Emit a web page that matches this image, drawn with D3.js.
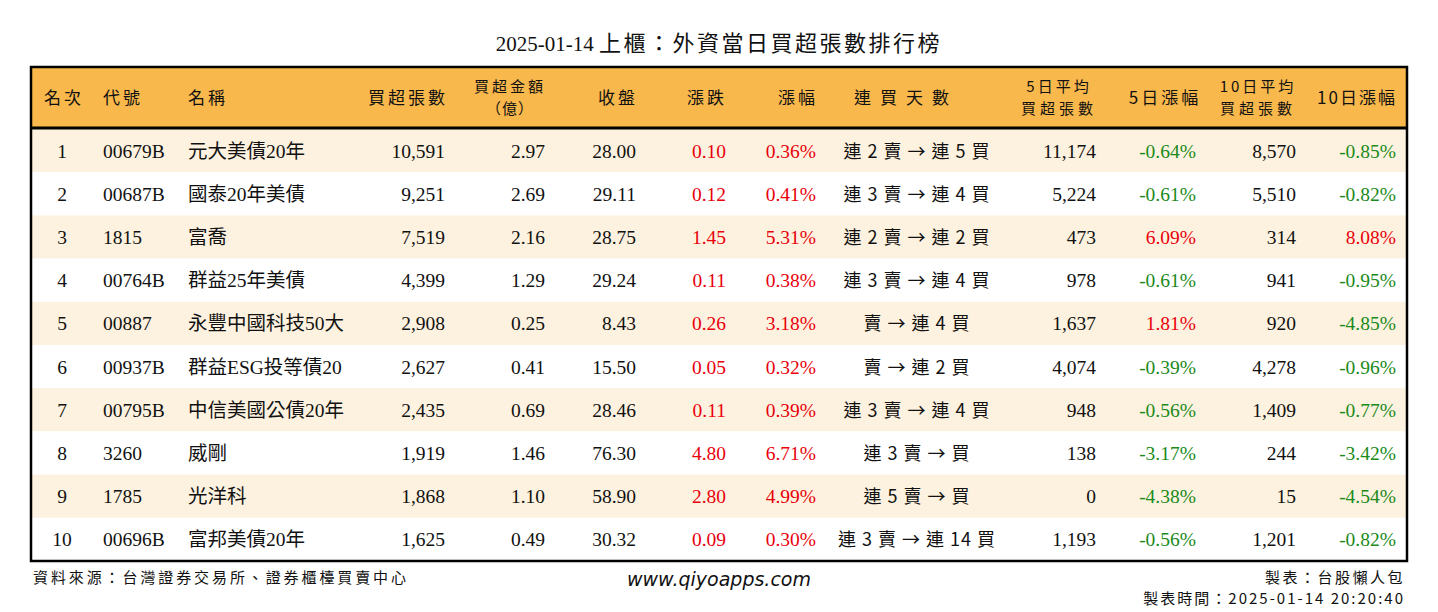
<!DOCTYPE html>
<html>
<head>
<meta charset="utf-8">
<script src="https://cdn.jsdelivr.net/npm/d3@7"></script>
<style>
  body { margin: 0; background: #fff; }
  svg text { font-family: "Liberation Serif", "Noto Sans CJK TC", serif; }
</style>
</head>
<body>
<div id="chart"></div>
<script>
const titleDate = "2025-01-14";
const titleText = "上櫃：外資當日買超張數排行榜";

const ranks   = [1, 2, 3, 4, 5, 6, 7, 8, 9, 10];
const codes   = ["00679B", "00687B", "1815", "00764B", "00887", "00937B", "00795B", "3260", "1785", "00696B"];
const names   = ["元大美債20年", "國泰20年美債", "富喬", "群益25年美債", "永豐中國科技50大", "群益ESG投等債20", "中信美國公債20年", "威剛", "光洋科", "富邦美債20年"];
const netBuy  = [10591, 9251, 7519, 4399, 2908, 2627, 2435, 1919, 1868, 1625];
const amount  = [2.97, 2.69, 2.16, 1.29, 0.25, 0.41, 0.69, 1.46, 1.10, 0.49];
const closes  = [28.00, 29.11, 28.75, 29.24, 8.43, 15.50, 28.46, 76.30, 58.90, 30.32];
const change  = [0.10, 0.12, 1.45, 0.11, 0.26, 0.05, 0.11, 4.80, 2.80, 0.09];
const pct     = [0.36, 0.41, 5.31, 0.38, 3.18, 0.32, 0.39, 6.71, 4.99, 0.30];
const streak  = ["連 2 賣 → 連 5 買", "連 3 賣 → 連 4 買", "連 2 賣 → 連 2 買", "連 3 賣 → 連 4 買", "賣 → 連 4 買",
                 "賣 → 連 2 買", "連 3 賣 → 連 4 買", "連 3 賣 → 買", "連 5 賣 → 買", "連 3 賣 → 連 14 買"];
const avg5    = [11174, 5224, 473, 978, 1637, 4074, 948, 138, 0, 1193];
const chg5    = [-0.64, -0.61, 6.09, -0.61, 1.81, -0.39, -0.56, -3.17, -4.38, -0.56];
const avg10   = [8570, 5510, 314, 941, 920, 4278, 1409, 244, 15, 1201];
const chg10   = [-0.85, -0.82, 8.08, -0.95, -4.85, -0.96, -0.77, -3.42, -4.54, -0.82];

const headers = [["名次"], ["代號"], ["名稱"], ["買超張數"], ["買超金額", "（億）"], ["收盤"], ["漲跌"], ["漲幅"],
                 ["連買天數"], ["5日平均", "買超張數"], ["5日漲幅"], ["10日平均", "買超張數"], ["10日漲幅"]];
const footLeft = "資料來源：台灣證券交易所、證券櫃檯買賣中心";
const footSite = "www.qiyoapps.com";
const footRight = ["製表：台股懶人包", "製表時間：2025-01-14 20:20:40"];

const W = 1438, H = 612;
const box = {left: 31, right: 1407, top: 67, head: 128, bottom: 561};
const RED = "#e8000b", GREEN = "#1a8a1a", INK = "#111";
const CJK = "'Noto Sans CJK TC', 'Liberation Serif', serif";

const int = d3.format(",");
const f2 = d3.format(".2f");
const num2 = v => (v < 0 ? "-" : "") + f2(Math.abs(v));
const pctFmt = v => num2(v) + "%";
const signCol = v => v >= 0 ? RED : GREEN;

// column layout: anchor x, text-anchor, header x
const cols = [
  {x: 62,   anchor: "middle", hx: 64,   val: i => ranks[i]},
  {x: 103,  anchor: "start",  hx: 103,  hAnchor: "start", val: i => codes[i]},
  {x: 188,  anchor: "start",  hx: 188,  hAnchor: "start", val: i => names[i]},
  {x: 445,  anchor: "end",    hx: 448,  hAnchor: "end", val: i => int(netBuy[i])},
  {x: 545,  anchor: "end",    hx: 510,  val: i => f2(amount[i])},
  {x: 636,  anchor: "end",    hx: 618,  val: i => f2(closes[i])},
  {x: 726,  anchor: "end",    hx: 707,  val: i => f2(change[i]), col: i => signCol(change[i])},
  {x: 816,  anchor: "end",    hx: 798,  val: i => pctFmt(pct[i]), col: i => signCol(pct[i])},
  {x: 917,  anchor: "middle", hx: 906,  hls: 9, val: i => streak[i], cjk: true, ls: 1},
  {x: 1096, anchor: "end",    hx: 1059, val: i => int(avg5[i])},
  {x: 1196, anchor: "end",    hx: 1165, val: i => pctFmt(chg5[i]), col: i => signCol(chg5[i])},
  {x: 1296, anchor: "end",    hx: 1258, val: i => int(avg10[i])},
  {x: 1396, anchor: "end",    hx: 1357, hls: 2, val: i => pctFmt(chg10[i]), col: i => signCol(chg10[i])}
];

const svg = d3.select("#chart").append("svg")
  .attr("width", W).attr("height", H);

const title = svg.append("text")
  .attr("x", W / 2).attr("y", 51)
  .attr("text-anchor", "middle")
  .attr("fill", INK);
title.append("tspan").style("font-size", "21px").text(titleDate + " ");
title.append("tspan").style("font-size", "22px").style("font-family", CJK)
  .style("letter-spacing", "2.5px").text(titleText);

const y = d3.scaleBand()
  .domain(ranks)
  .range([box.head + 1, box.bottom]);

// header background
svg.append("rect")
  .attr("x", box.left).attr("y", box.top)
  .attr("width", box.right - box.left).attr("height", box.head - box.top)
  .attr("fill", "#f8b84c");

// row stripes
svg.selectAll("rect.row")
  .data(ranks)
  .join("rect")
  .attr("class", "row")
  .attr("x", box.left).attr("y", d => y(d))
  .attr("width", box.right - box.left).attr("height", y.bandwidth())
  .attr("fill", (d, i) => i % 2 === 0 ? "#fdf2df" : "#ffffff");

// header text
const hMid = (box.top + box.head) / 2;
headers.forEach((lines, c) => {
  const col = cols[c];
  if (lines.length === 1) {
    svg.append("text")
      .attr("x", col.hx).attr("y", hMid + 6)
      .attr("text-anchor", col.hAnchor || "middle")
      .attr("fill", INK)
      .style("font-size", "17px")
      .style("letter-spacing", (col.hls || 3) + "px")
      .style("font-family", CJK)
      .text(lines[0]);
  } else {
    lines.forEach((s, k) => {
      const paren = s.startsWith("（");
      svg.append("text")
        .attr("x", col.hx).attr("y", hMid - 6 + k * 22)
        .attr("text-anchor", "middle")
        .attr("fill", INK)
        .style("font-size", "15px")
        .style("letter-spacing", paren ? "1px" : (k === 0 ? "3px" : "4px"))
        .style("font-family", CJK)
        .text(s);
    });
  }
});

// cells
const rowG = svg.selectAll("g.r")
  .data(ranks)
  .join("g")
  .attr("class", "r")
  .attr("transform", d => `translate(0,${y(d) + y.bandwidth() / 2 + 7})`);

cols.forEach(c => {
  rowG.append("text")
    .attr("x", c.x)
    .attr("text-anchor", c.anchor)
    .attr("fill", (d, i) => c.col ? c.col(i) : INK)
    .style("font-size", c.cjk ? "18px" : "19.5px")
    .style("letter-spacing", c.ls ? c.ls + "px" : null)
    .style("font-family", c.cjk ? CJK : null)
    .text((d, i) => c.val(i));
});

// borders
svg.append("rect")
  .attr("x", box.left).attr("y", box.top)
  .attr("width", box.right - box.left).attr("height", box.bottom - box.top)
  .attr("fill", "none").attr("stroke", "#000").attr("stroke-width", 2.5);
svg.append("line")
  .attr("x1", box.left).attr("x2", box.right)
  .attr("y1", box.head).attr("y2", box.head)
  .attr("stroke", "#000").attr("stroke-width", 3);

// footer
svg.append("text")
  .attr("x", 33).attr("y", 583)
  .attr("fill", INK)
  .style("font-size", "15px")
  .style("letter-spacing", "2.9px")
  .style("font-family", CJK)
  .text(footLeft);
svg.append("text")
  .attr("x", W / 2).attr("y", 586)
  .attr("text-anchor", "middle")
  .attr("fill", INK)
  .style("font-size", "19px")
  .style("font-style", "italic")
  .style("font-family", "'DejaVu Sans', sans-serif")
  .text(footSite);
const footSpacing = [2.5, 2];
footRight.forEach((s, i) => {
  svg.append("text")
    .attr("x", 1405).attr("y", 583 + i * 21)
    .attr("text-anchor", "end")
    .attr("fill", INK)
    .style("font-size", "15px")
    .style("letter-spacing", footSpacing[i] + "px")
    .style("font-family", CJK)
    .text(s);
});
</script>
</body>
</html>
